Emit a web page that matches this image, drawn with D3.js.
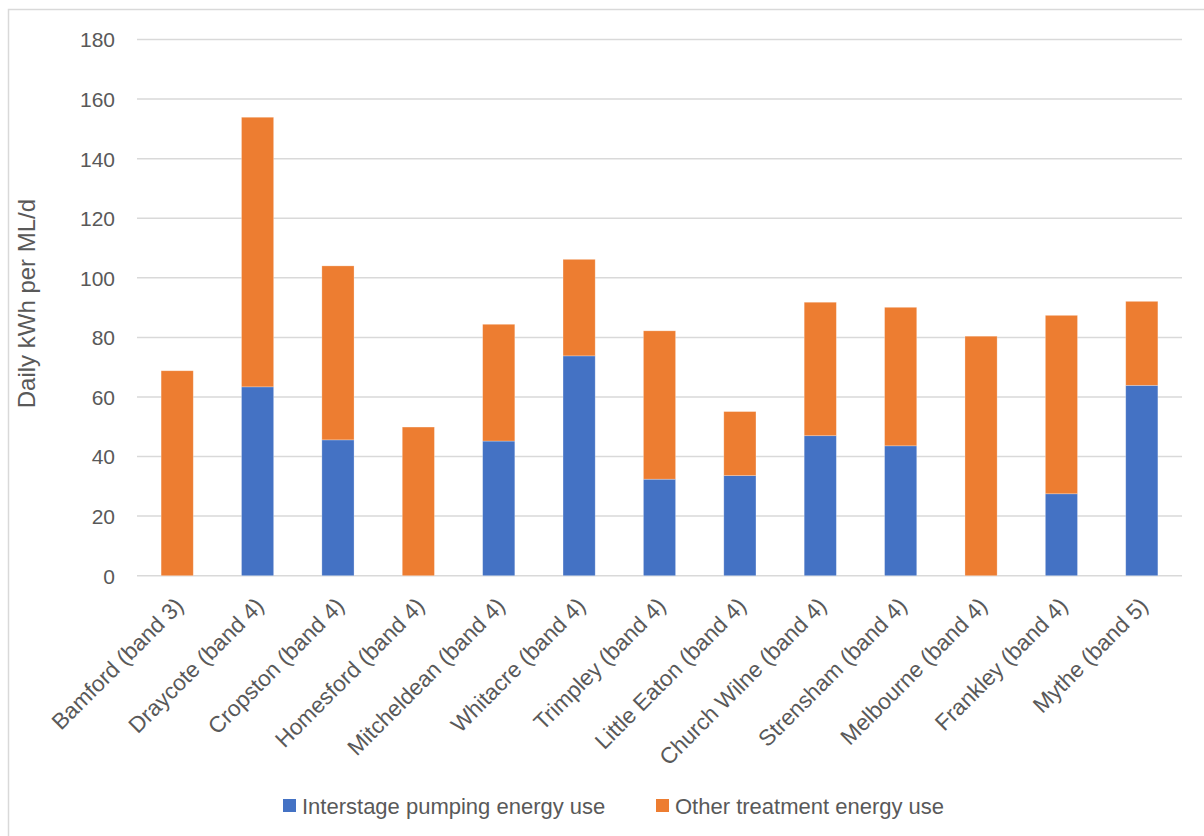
<!DOCTYPE html>
<html>
<head>
<meta charset="utf-8">
<script src="https://cdn.jsdelivr.net/npm/d3@7"></script>
<style>
  html, body { margin: 0; padding: 0; background: #fff; }
  svg { display: block; }
  text { font-family: "Liberation Sans", "DejaVu Sans", sans-serif; fill: #595959; }
</style>
</head>
<body>
<svg id="chart" width="1204" height="836"></svg>
<script>
// Treatment works, daily energy use per ML/d, split into two components
const sites = [
  "Bamford (band 3)", "Draycote (band 4)", "Cropston (band 4)", "Homesford (band 4)",
  "Mitcheldean (band 4)", "Whitacre (band 4)", "Trimpley (band 4)", "Little Eaton (band 4)",
  "Church Wilne (band 4)", "Strensham (band 4)", "Melbourne (band 4)", "Frankley (band 4)",
  "Mythe (band 5)"
];
const interstagePumping = [0, 63.4, 45.6, 0, 45.2, 73.8, 32.4, 33.6, 47.0, 43.6, 0, 27.5, 63.9];
const otherTreatment    = [68.8, 90.5, 58.4, 49.9, 39.2, 32.4, 49.8, 21.5, 44.8, 46.5, 80.4, 59.9, 28.2];
const seriesNames = ["Interstage pumping energy use", "Other treatment energy use"];
const seriesColors = ["#4472C4", "#ED7D31"];
const yTicks = [0, 20, 40, 60, 80, 100, 120, 140, 160, 180];
const yTitle = "Daily kWh per ML/d";

const svg = d3.select("#chart");

// chart frame
svg.append("rect")
  .attr("x", 8.5).attr("y", 9.5)
  .attr("width", 1210).attr("height", 840)
  .attr("fill", "none").attr("stroke", "#d9d9d9").attr("stroke-width", 1.5);

const plot = { left: 137, right: 1182, top: 39.5, bottom: 575.7 };

const x = d3.scaleBand().domain(sites).range([plot.left, plot.right]).paddingInner(0.6).paddingOuter(0.3);
const y = d3.scaleLinear().domain([0, 180]).range([plot.bottom, plot.top]);

// gridlines
svg.append("g")
  .selectAll("line").data(yTicks).join("line")
  .attr("x1", plot.left).attr("x2", plot.right)
  .attr("y1", d => y(d)).attr("y2", d => y(d))
  .attr("stroke", "#d9d9d9").attr("stroke-width", 1.5);

// y tick labels
const yAxis = d3.axisLeft(y).tickValues(yTicks).tickSize(0).tickPadding(22);
const gy = svg.append("g").attr("transform", `translate(${plot.left},0)`).call(yAxis);
gy.select(".domain").remove();
gy.selectAll("text").attr("font-size", 21).style("font-family", null).attr("fill", "#595959").attr("dy", "0.35em");

// stacked bars
const rows = sites.map((s, i) => ({ site: s, a: interstagePumping[i], b: otherTreatment[i] }));
const stack = d3.stack().keys(["a", "b"])(rows);
svg.append("g").selectAll("g").data(stack).join("g")
  .attr("fill", (d, i) => seriesColors[i])
  .selectAll("rect").data(d => d).join("rect")
  .attr("x", d => x(d.data.site))
  .attr("width", x.bandwidth())
  .attr("y", d => y(d[1]))
  .attr("height", d => Math.max(0, y(d[0]) - y(d[1])))
  .attr("stroke", "#ffffff").attr("stroke-opacity", 0.35).attr("stroke-width", 0.75);

// category labels, rotated
const xAxis = d3.axisBottom(x).tickSize(0).tickPadding(0);
const gx = svg.append("g").attr("transform", `translate(0,${plot.bottom})`).call(xAxis);
gx.select(".domain").remove();
gx.selectAll("text")
  .attr("font-size", 22.5).style("font-family", null).attr("fill", "#595959")
  .attr("text-anchor", "end")
  .attr("transform", "translate(2,26) rotate(-45)")
  .attr("dy", "0.35em")
  .attr("y", 0).attr("x", 0);

// y axis title
svg.append("text")
  .attr("transform", `translate(35,${(plot.top + plot.bottom) / 2 - 4}) rotate(-90)`)
  .attr("text-anchor", "middle")
  .attr("font-size", 24)
  .text(yTitle);

// legend
const legendItems = [
  { name: seriesNames[0], color: seriesColors[0], x: 283 },
  { name: seriesNames[1], color: seriesColors[1], x: 656 }
];
const lg = svg.append("g");
legendItems.forEach(it => {
  lg.append("rect").attr("x", it.x).attr("y", 799).attr("width", 13).attr("height", 13).attr("fill", it.color);
  lg.append("text").attr("x", it.x + 19).attr("y", 806).attr("dy", "0.35em")
    .attr("font-size", 22).text(it.name);
});
</script>
</body>
</html>
